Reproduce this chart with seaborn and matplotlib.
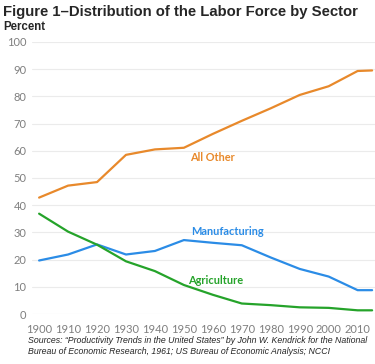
import pandas as pd
import matplotlib.pyplot as plt
import seaborn as sns

years = [1900, 1910, 1920, 1930, 1940, 1950, 1960, 1970, 1980, 1990, 2000, 2010, 2015]
all_other = [42.8, 47.2, 48.5, 58.5, 60.5, 61.1, 66.2, 71.0, 75.6, 80.5, 83.7, 89.3, 89.5]
manufacturing = [19.7, 21.9, 25.6, 21.9, 23.2, 27.2, 26.2, 25.3, 20.8, 16.6, 13.8, 8.8, 8.8]
agriculture = [36.9, 30.3, 25.5, 19.4, 15.8, 10.7, 7.1, 3.9, 3.3, 2.5, 2.3, 1.4, 1.4]

series_names = ["All Other", "Manufacturing", "Agriculture"]
colors = {"All Other": "#E8892B", "Manufacturing": "#2B8CE6", "Agriculture": "#25A32A"}
# label anchor (year, value) for the inline series names
label_pos = {"All Other": (1960, 57.5), "Manufacturing": (1965, 30.5), "Agriculture": (1961, 12.5)}

df = pd.DataFrame({"year": years, "All Other": all_other,
                   "Manufacturing": manufacturing, "Agriculture": agriculture})
long = df.melt(id_vars="year", var_name="sector", value_name="pct")

sns.set_style("white")
plt.rcParams["font.family"] = ["Liberation Sans", "DejaVu Sans"]
body_font = ["Lato", "DejaVu Sans"]

fig = plt.figure(figsize=(3.75, 3.64), dpi=100)
ax = fig.add_axes([0.085, 0.137, 0.915, 0.748])

sns.lineplot(data=long, x="year", y="pct", hue="sector", hue_order=series_names,
             palette=colors, linewidth=1.6, legend=False, ax=ax)

for name in series_names:
    x, y = label_pos[name]
    ax.text(x, y, name, color=colors[name], fontsize=7.9, fontweight="bold",
            ha="center", va="center", family=body_font)

ax.set_xlim(1897.5, 2016)
ax.set_ylim(0, 100)
ax.set_xticks(years[:-1])
ax.set_yticks(range(0, 101, 10))
ax.grid(axis="y", color="#EBEBEB", linewidth=0.8)
ax.set_axisbelow(True)
ax.tick_params(axis="both", length=0, labelsize=8, labelcolor="#7F7F7F")
ax.tick_params(axis="x", pad=7)
ax.tick_params(axis="y", pad=4)
for lbl in ax.get_xticklabels() + ax.get_yticklabels():
    lbl.set_family(body_font)
ax.set_xlabel("")
ax.set_ylabel("")
sns.despine(ax=ax, left=True, bottom=True)

fig.text(0.008, 0.966, "Figure 1\u2013Distribution of the Labor Force by Sector",
         fontsize=10.7, fontweight="bold", ha="left", va="center")
fig.text(0.008, 0.926, "Percent", fontsize=8.3, fontweight="bold", ha="left", va="center")
fig.text(0.075, 0.049,
         "Sources: \u201cProductivity Trends in the United States\u201d by John W. Kendrick for the National\n"
         "Bureau of Economic Research, 1961; US Bureau of Economic Analysis; NCCI",
         fontsize=6.3, style="italic", ha="left", va="center", linespacing=1.35)

fig.savefig("out.png", dpi=100)
